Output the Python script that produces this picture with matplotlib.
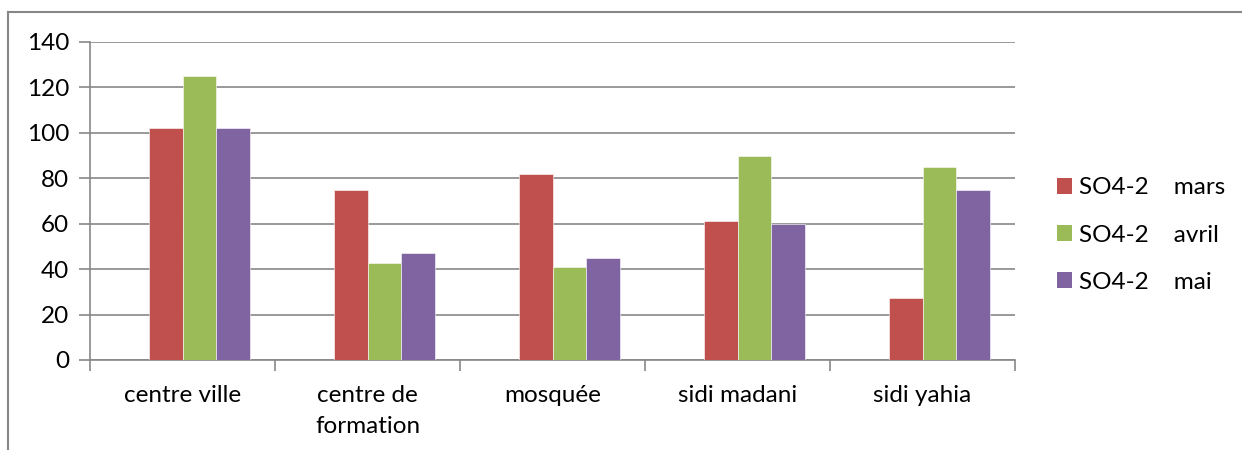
import matplotlib
matplotlib.use("Agg")
import matplotlib.pyplot as plt
from matplotlib.patches import Patch
from matplotlib.lines import Line2D
import numpy as np

categories = ["centre ville", "centre de\nformation", "mosquée", "sidi madani", "sidi yahia"]
series_names = ["SO4-2    mars", "SO4-2    avril", "SO4-2    mai"]
mars = [102, 75, 82, 61, 27.5]
avril = [125, 42.5, 41, 90, 85]
mai = [102, 47, 45, 60, 75]
colors = ["#C0504D", "#9BBB59", "#8064A2"]
yticks = [0, 20, 40, 60, 80, 100, 120, 140]

plt.rcParams['font.family'] = ['Lato', 'DejaVu Sans']
fs = 17.5
fig = plt.figure(figsize=(12.42, 4.5), dpi=100)
ax = fig.add_axes([90/1242, 1-360/450, (1015-90)/1242, (360-42)/450])

gray = "#878787"
x = np.arange(len(categories))
# Excel-style layout: 4 slots per category (first slot empty), gap width 150%
w = 1/(4+1.5)
slots = [1, 2, 3]
for vals, c, s in zip([mars, avril, mai], colors, slots):
    ax.bar(x + (s-1.5)*w, vals, width=w, color=c, edgecolor="white", linewidth=0.4, zorder=3)

ax.set_xlim(-0.5, len(categories)-0.5)
ax.set_ylim(0, 140)
ax.set_yticks(yticks)
ax.set_yticklabels([str(t) for t in yticks], fontsize=fs)
ax.yaxis.grid(True, color=gray, linewidth=1.2, zorder=0)
ax.set_axisbelow(True)
ax.set_xticks(x)
ax.set_xticklabels(categories, fontsize=fs, linespacing=1.6)
ax.tick_params(axis='x', length=0, pad=18)
ax.tick_params(axis='y', length=8, width=1.2, color=gray, pad=7)
ax.set_xticks(np.arange(len(categories)+1)-0.5, minor=True)
ax.tick_params(axis='x', which='minor', length=8, width=1.2, color=gray)
for s in ["top", "right"]:
    ax.spines[s].set_visible(False)
for s in ["left", "bottom"]:
    ax.spines[s].set_color(gray)
    ax.spines[s].set_linewidth(1.2)

# chart frame (cropped)
fig.add_artist(Line2D([8/1242, 8/1242], [0, 1-12/450], transform=fig.transFigure, color=gray, linewidth=1.5))
fig.add_artist(Line2D([8/1242, 1], [1-12/450, 1-12/450], transform=fig.transFigure, color=gray, linewidth=1.5))

handles = [Patch(facecolor=c, edgecolor="none") for c in colors]
fig.legend(handles, series_names, loc="center left", bbox_to_anchor=(1057/1242, 1-235/450),
           frameon=False, fontsize=fs, handlelength=0.62, handleheight=0.62,
           handletextpad=0.3, labelspacing=1.08, borderpad=0, borderaxespad=0)

fig.savefig("out.png", dpi=100)
